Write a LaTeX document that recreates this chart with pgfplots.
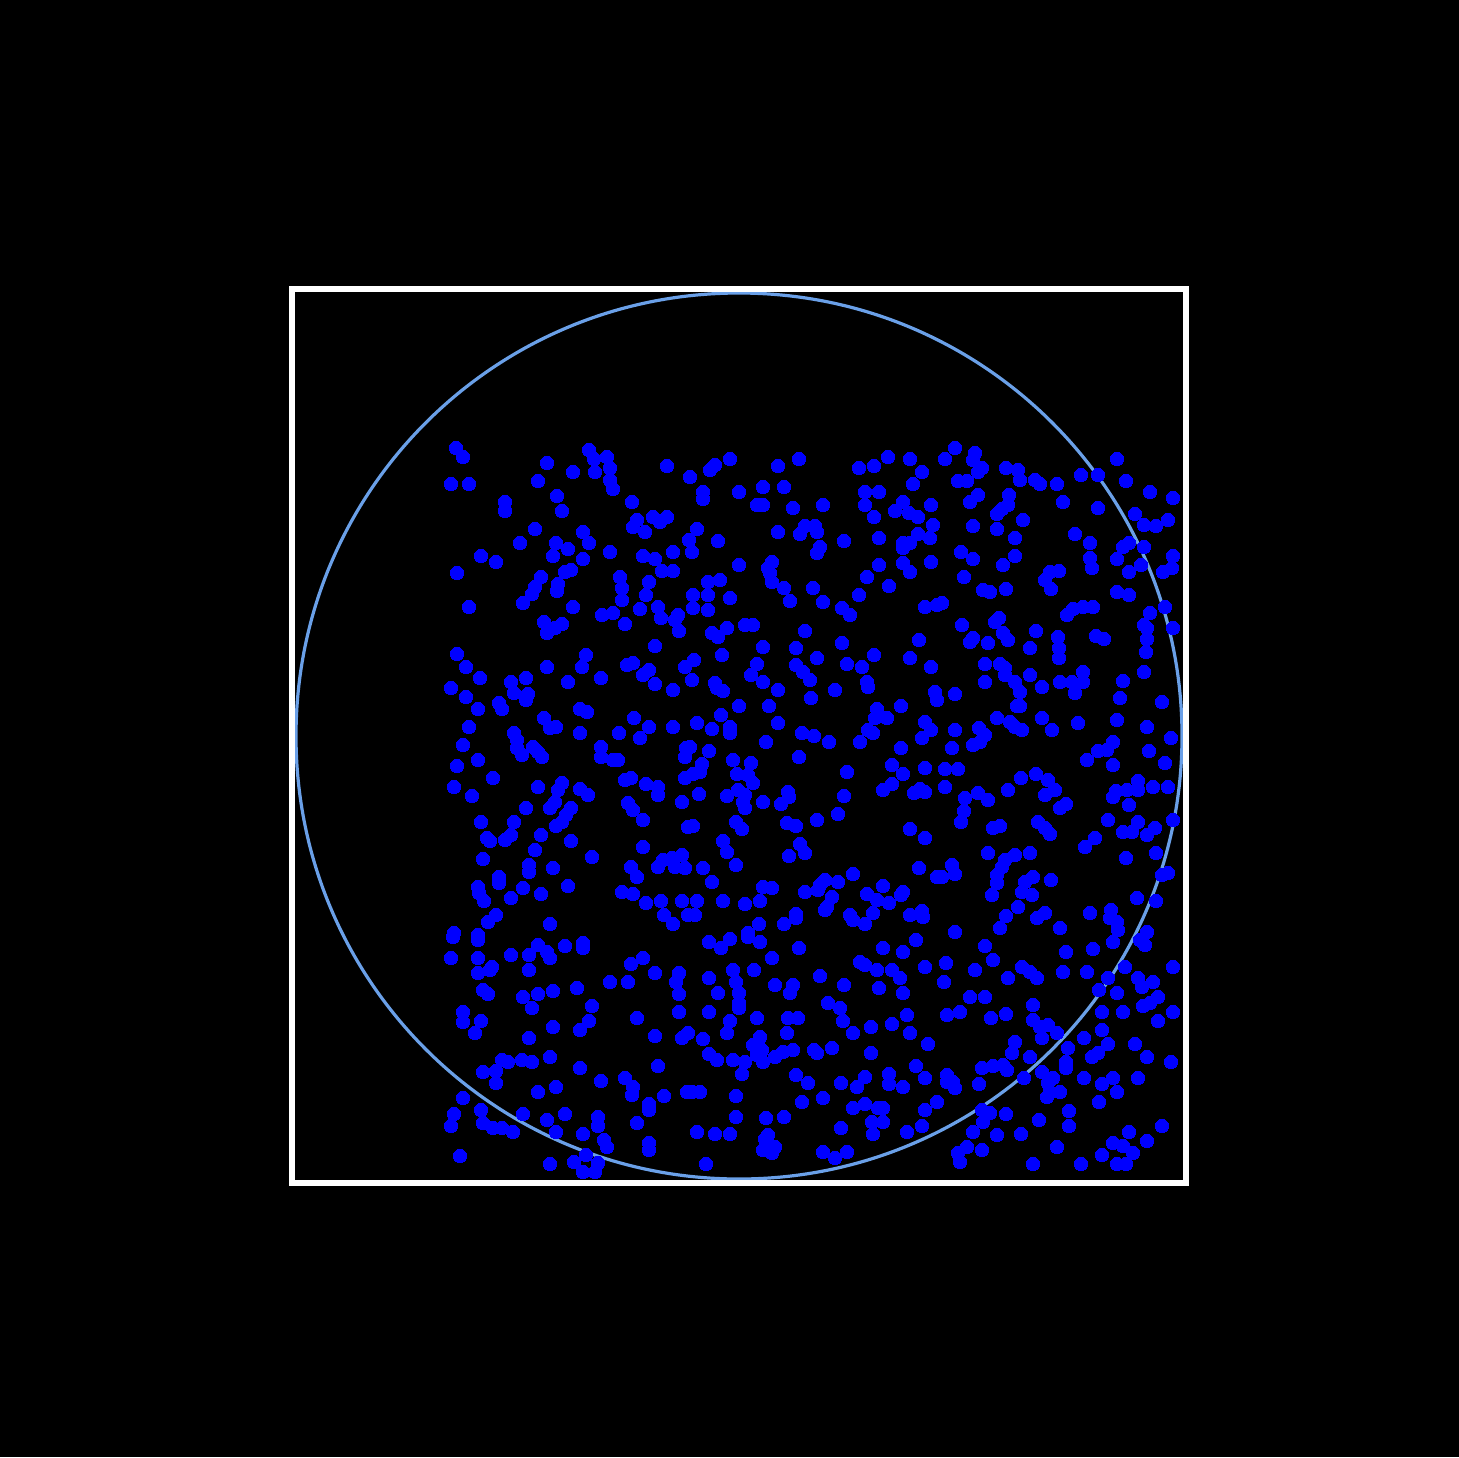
\documentclass[border=0pt]{standalone}
\usepackage{pgfplots}
\usepackage{pgfplotstable}
\pgfplotsset{compat=1.18}
\definecolor{circ}{RGB}{106,160,232}
\definecolor{pts}{RGB}{0,0,255}
\pgfplotstableread{
x y
456 448
463 457
451 484
469 484
547 463
538 481
573 472
589 450
594 459
607 457
595 472
610 468
610 480
613 489
667 466
557 496
562 511
505 502
505 511
632 502
637 520
633 527
645 532
653 517
660 522
667 517
535 529
520 543
556 543
568 549
553 556
583 532
589 543
583 559
610 552
481 556
496 562
457 573
643 556
655 559
673 552
662 571
673 571
565 572
571 570
541 577
535 587
532 594
558 584
557 591
620 577
622 588
622 600
649 582
646 595
469 607
523 603
573 607
640 609
658 607
661 618
678 615
675 620
679 631
602 615
613 613
625 624
544 622
547 633
555 628
562 624
655 646
457 654
466 667
547 667
586 655
582 667
627 665
633 663
649 670
643 675
685 667
480 678
511 682
526 678
568 682
601 678
690 477
703 492
703 499
710 470
715 465
730 459
778 466
799 459
739 492
763 487
784 487
757 505
763 505
793 508
823 505
859 468
874 466
888 457
910 459
922 472
913 484
865 492
879 492
865 505
874 517
895 511
903 502
909 513
918 517
931 505
933 525
697 529
689 540
718 541
778 532
805 526
815 526
800 534
817 532
820 547
817 553
844 541
879 538
918 534
930 538
903 543
910 543
903 548
692 552
739 565
772 562
768 568
770 573
879 565
903 563
910 572
931 562
708 582
720 580
708 595
693 595
693 608
708 610
730 598
772 582
784 588
790 601
813 588
823 602
867 577
889 586
859 595
842 608
850 615
925 607
937 605
727 628
712 633
718 637
745 625
753 625
805 631
842 643
919 640
763 647
796 648
722 655
694 660
817 658
874 655
910 658
757 664
796 665
803 672
810 680
847 664
862 667
931 667
751 675
763 682
692 680
715 683
867 682
955 448
945 459
975 453
973 460
982 468
978 472
958 481
967 481
1006 468
1018 470
1020 480
1035 480
1040 484
1057 484
1081 475
1098 475
1117 459
1126 481
1150 492
1173 498
978 495
970 502
1009 495
1008 505
1002 509
997 514
1063 502
1098 508
973 526
997 529
1023 520
1135 514
1144 525
1156 526
1168 520
1015 538
1075 534
1090 543
1123 547
1129 543
1144 547
961 552
973 559
1015 556
1003 565
1090 558
1092 568
1117 559
1141 565
1173 556
1172 568
1163 572
1129 572
1050 572
1059 571
1045 580
1051 589
964 577
983 590
990 592
1006 589
942 603
1117 592
1129 595
1165 607
1150 613
1067 615
1073 609
1083 607
1093 607
962 625
999 618
995 622
973 638
970 642
988 643
1003 633
1008 640
1036 631
1058 637
1096 636
1104 639
1144 625
1147 628
1173 628
1147 639
1146 652
1030 648
1059 648
1059 658
985 664
1000 664
1005 668
1005 675
1030 675
1083 672
1144 672
985 682
1015 682
1060 682
1072 682
1083 682
1123 681
451 688
655 684
673 690
466 697
514 693
528 694
526 700
499 703
502 709
478 709
580 709
587 712
544 718
550 728
556 727
469 727
514 733
580 733
634 718
649 727
673 727
619 733
640 738
463 745
517 740
517 748
522 755
533 747
538 752
542 757
601 747
601 757
613 760
618 760
686 748
685 757
478 760
457 766
493 778
454 787
472 796
538 787
562 783
558 790
580 789
588 795
625 780
631 778
646 784
658 787
658 795
685 778
555 802
550 808
526 808
571 808
566 815
562 822
556 826
628 803
633 810
682 802
643 820
481 822
514 822
688 827
487 838
490 841
511 835
505 840
541 835
571 841
535 850
643 847
483 859
592 857
529 865
529 872
553 868
631 867
637 877
658 867
663 860
672 858
682 855
675 867
685 868
499 877
499 883
478 887
479 893
484 901
523 888
568 886
622 892
633 894
511 898
541 894
646 903
661 901
682 901
496 915
488 922
664 915
673 924
550 924
688 915
454 933
478 935
717 688
723 691
778 690
811 698
835 690
868 687
935 692
937 700
739 706
769 706
721 715
697 723
712 729
730 727
730 733
778 723
802 733
814 736
829 742
877 709
875 718
887 718
901 706
925 722
931 730
868 730
873 733
860 742
922 738
766 742
709 751
901 748
690 747
799 757
733 760
751 763
702 764
700 772
693 774
737 774
748 775
753 783
847 772
892 765
903 774
925 768
892 784
883 790
920 789
914 793
925 792
699 794
727 796
738 790
745 795
743 802
745 808
763 802
788 792
789 797
781 804
844 796
838 814
817 820
693 826
736 822
742 829
787 823
796 826
910 829
925 838
723 841
727 852
800 844
805 853
789 856
736 865
703 868
919 868
937 877
853 874
712 882
763 887
772 888
805 892
820 885
825 880
818 890
838 882
883 886
903 892
901 895
867 894
877 900
873 913
889 903
832 897
827 907
825 910
697 901
723 901
745 904
760 901
796 914
796 918
850 915
853 920
865 924
910 915
922 911
923 917
695 915
759 924
784 924
748 933
955 694
1020 692
1042 687
1075 693
1120 698
1162 702
1017 706
1020 706
997 718
1010 722
1015 727
1022 730
1042 718
1052 730
1078 723
1117 720
1147 727
1171 738
955 730
979 728
985 735
980 742
973 745
952 748
1113 742
1107 750
1098 751
1149 751
1087 760
1113 765
1165 763
945 769
958 769
1021 778
1036 774
1048 780
1055 790
1045 795
945 787
1008 790
965 798
978 793
988 800
964 811
1060 808
1066 804
1116 791
1113 797
1127 790
1138 781
1138 790
1153 787
1168 787
1129 805
961 822
993 828
1000 826
1038 822
1045 828
1050 834
1108 820
1123 832
1132 832
1138 822
1147 835
1155 828
1173 820
1095 838
1085 847
988 853
1030 853
1015 855
1005 860
1002 867
997 875
997 883
992 895
1156 853
1126 858
952 865
955 874
942 877
1033 877
1025 882
1022 892
1032 895
1051 880
1162 875
1168 873
1137 898
1156 901
1018 907
1006 916
1045 913
1037 918
1090 913
1111 910
1110 918
1117 922
1118 930
1000 928
1060 928
955 932
1147 932
453 937
478 940
451 958
478 958
478 973
492 967
490 970
511 955
529 955
538 945
547 952
550 958
565 946
583 943
583 948
529 970
483 990
488 994
523 997
538 994
553 991
577 988
631 964
643 958
655 973
679 973
676 982
610 982
628 982
679 994
463 1012
463 1022
481 1021
475 1033
532 1008
592 1006
589 1021
580 1030
553 1027
529 1038
637 1018
679 1012
655 1036
682 1038
688 1033
550 1057
502 1060
508 1062
522 1060
532 1062
483 1072
496 1071
496 1083
580 1068
658 1066
601 1081
625 1078
633 1087
632 1095
556 1087
538 1092
664 1096
687 1092
463 1098
649 1104
649 1110
454 1114
481 1110
523 1114
565 1114
451 1126
483 1123
493 1128
502 1128
513 1132
547 1120
598 1117
598 1126
637 1123
556 1132
583 1134
604 1140
607 1147
649 1143
649 1150
460 1156
550 1164
574 1162
586 1155
598 1163
595 1172
583 1172
709 942
721 948
730 939
748 937
760 942
799 948
772 958
733 970
754 970
709 978
736 982
775 985
793 985
790 993
820 976
844 985
718 993
739 993
739 1003
739 1008
709 1012
828 1003
840 1008
843 1021
730 1021
757 1018
788 1018
798 1018
727 1033
787 1033
853 1033
871 1027
703 1039
760 1037
753 1045
762 1050
757 1055
763 1062
775 1057
783 1052
793 1050
814 1050
817 1053
832 1048
871 1053
709 1054
717 1060
733 1060
745 1062
742 1074
796 1075
808 1083
841 1083
865 1077
857 1087
889 1074
889 1084
903 1087
916 1066
925 1078
928 1044
910 1033
907 1015
892 1024
700 1092
692 1092
736 1096
802 1102
823 1098
853 1108
865 1104
878 1108
883 1108
925 1110
937 1102
872 1122
883 1122
873 1134
736 1117
766 1118
784 1117
841 1128
907 1132
922 1126
697 1132
715 1134
730 1134
768 1135
765 1139
763 1150
775 1147
772 1153
823 1152
835 1158
847 1152
706 1164
903 993
903 952
916 940
883 948
860 962
865 965
877 970
892 970
900 978
879 988
925 967
985 946
993 960
946 963
975 970
944 982
1022 967
1030 972
1037 978
1008 978
1066 952
1063 972
1087 972
1093 949
1113 942
1140 940
1145 945
1125 967
1108 978
1138 978
1142 987
1153 982
1173 967
970 997
985 997
1099 990
1117 993
1158 997
1150 1003
1143 1006
1033 1005
947 1015
960 1012
991 1018
1006 1014
1102 1012
1123 1012
1173 1012
1158 1021
1033 1020
1040 1027
1048 1025
1057 1033
1102 1030
1042 1038
1015 1042
1084 1038
1108 1044
1135 1044
1068 1048
1012 1053
1030 1057
1092 1057
1098 1053
1147 1057
1171 1062
1066 1062
1066 1068
982 1068
993 1066
1003 1065
1007 1070
947 1075
953 1082
955 1088
947 1082
979 1084
1024 1078
1042 1072
1053 1078
1048 1083
1050 1092
1047 1097
1060 1092
1084 1078
1102 1084
1113 1078
1138 1078
1117 1092
1099 1102
982 1110
990 1113
983 1122
1006 1114
1069 1111
1039 1120
1069 1126
973 1132
997 1135
1021 1134
1129 1132
1162 1126
1147 1141
1057 1147
982 1150
967 1147
958 1153
960 1162
1113 1143
1123 1146
1133 1153
1102 1155
1033 1164
1081 1164
1117 1164
1126 1164
}\pts
\begin{document}
\begin{tikzpicture}
\fill[black] (0,0) rectangle (14.59cm,14.57cm);
\begin{axis}[
  at={(7.39cm,7.21cm)}, anchor=center,
  width=8.94cm, height=8.94cm, scale only axis,
  xmin=292, xmax=1186, ymin=289, ymax=1183,
  y dir=reverse,
  xtick=\empty, ytick=\empty,
  axis on top=true,
  axis line style={draw=white, line width=0.6mm},
  axis background/.style={fill=black},
]
\addplot[only marks, mark=*, mark size=1.9pt,
  mark options={fill=pts, draw=pts, line width=0pt}] table {\pts};
\draw[circ, line width=0.32mm] (axis cs:739,736) circle[radius=4.43cm];
\end{axis}
\end{tikzpicture}
\end{document}
